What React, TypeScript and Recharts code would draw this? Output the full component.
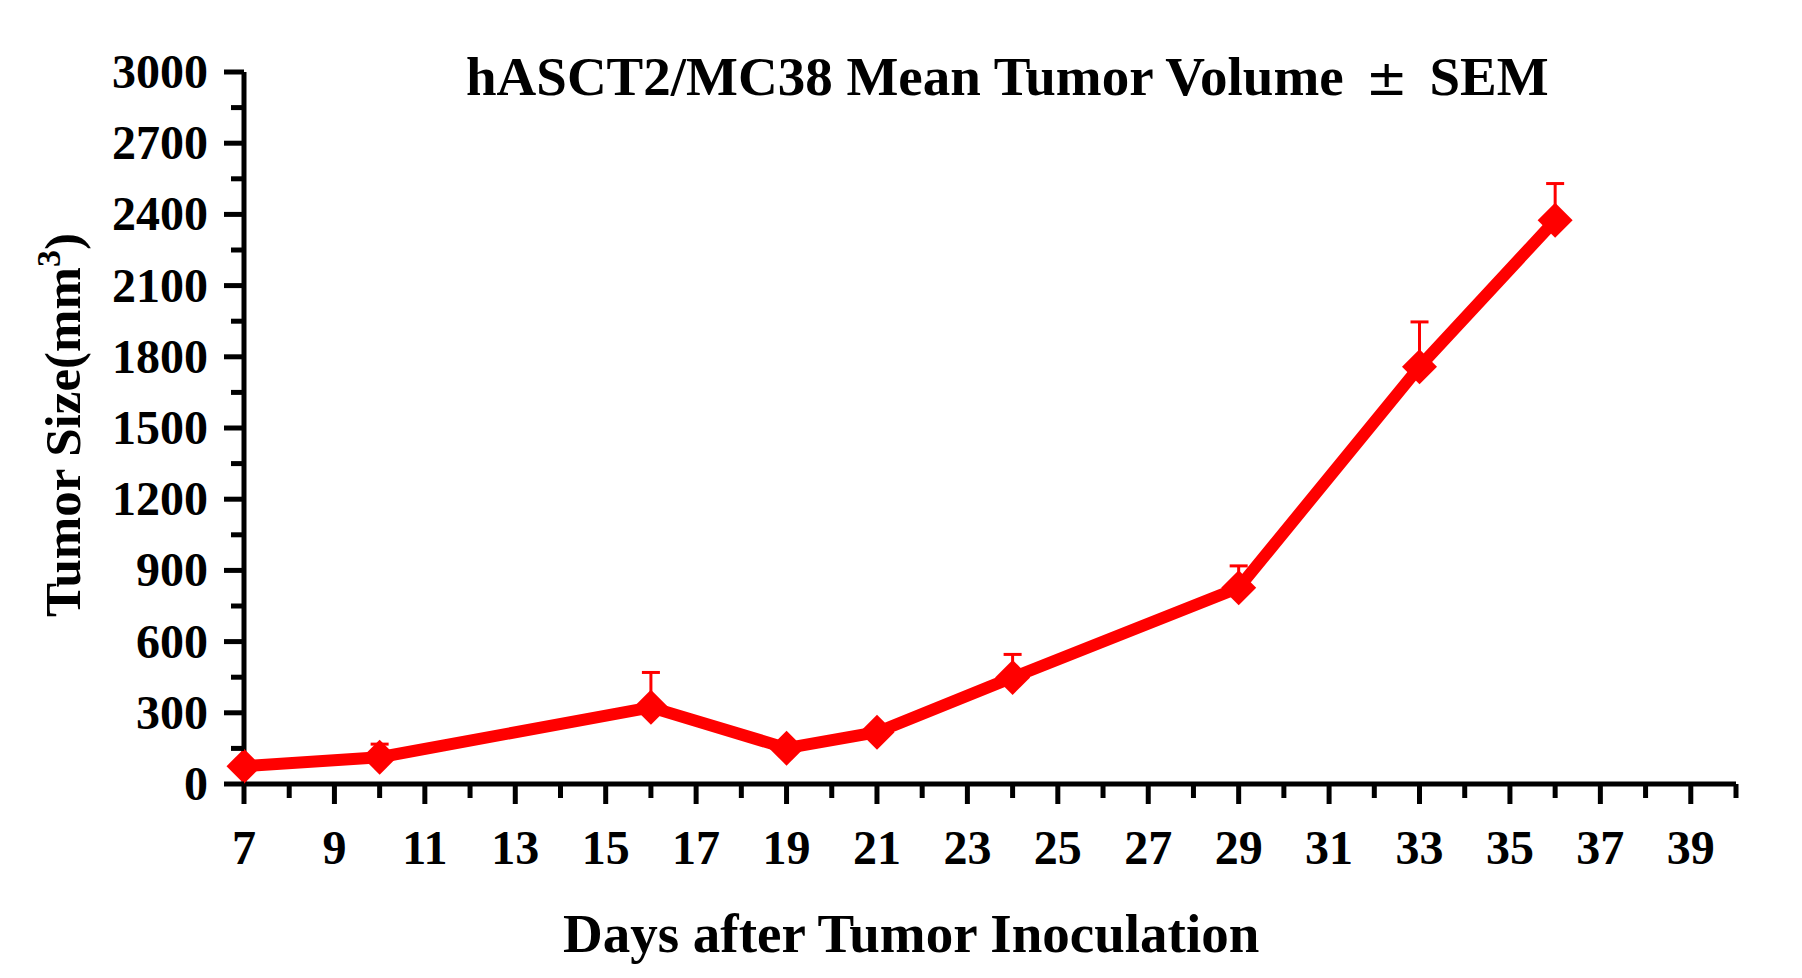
import { LineChart, Line, XAxis, YAxis, ErrorBar } from "recharts";

// measurement days and group mean ± SEM (mm³)
const days = [7, 10, 16, 19, 21, 24, 29, 33, 36];
const meanVolume = [75, 113, 323, 151, 218, 449, 827, 1758, 2375];
const semVolume = [20, 55, 147, 20, 25, 97, 92, 189, 155];

const dayTicks = [
  7, 8, 9, 10, 11, 12, 13, 14, 15, 16, 17, 18, 19, 20, 21, 22, 23, 24, 25, 26,
  27, 28, 29, 30, 31, 32, 33, 34, 35, 36, 37, 38, 39, 40,
];
const sizeTicks = [
  0, 150, 300, 450, 600, 750, 900, 1050, 1200, 1350, 1500, 1650, 1800, 1950,
  2100, 2250, 2400, 2550, 2700, 2850, 3000,
];

const data = days.map((day, i) => ({
  day,
  volume: meanVolume[i],
  err: [0, semVolume[i]],
}));

const FONT = '"Liberation Serif", "Times New Roman", serif';
const RED = "#ff0000";

function YTick({ x, y, payload }: any) {
  const major = payload.value % 300 === 0;
  return (
    <g>
      <line x1={x} x2={x - (major ? 20 : 13)} y1={y} y2={y} stroke="#000" strokeWidth={5} />
      {major && (
        <text
          x={x - 36}
          y={y + 16}
          textAnchor="end"
          fontFamily={FONT}
          fontWeight="bold"
          fontSize={48}
          fill="#000"
        >
          {payload.value}
        </text>
      )}
    </g>
  );
}

function XTick({ x, y, payload }: any) {
  const major = payload.value % 2 === 1;
  return (
    <g>
      <line x1={x} x2={x} y1={y} y2={y + (major ? 20 : 14)} stroke="#000" strokeWidth={5} />
      {major && (
        <text
          x={x}
          y={y + 80}
          textAnchor="middle"
          fontFamily={FONT}
          fontWeight="bold"
          fontSize={48}
          fill="#000"
        >
          {payload.value}
        </text>
      )}
    </g>
  );
}

function Diamond({ cx, cy }: any) {
  if (cx == null || cy == null) return null;
  const r = 17.5;
  return (
    <polygon
      points={`${cx},${cy - r} ${cx + r},${cy} ${cx},${cy + r} ${cx - r},${cy}`}
      fill={RED}
    />
  );
}

export default function App() {
  return (
    <div style={{ position: "absolute", left: 0, top: 0, width: 1802, height: 978, background: "#fff" }}>
      <LineChart
        width={1802}
        height={978}
        data={data}
        margin={{ top: 72, right: 66, bottom: 0, left: 0 }}
      >
        <XAxis
          dataKey="day"
          type="number"
          domain={[7, 40]}
          ticks={dayTicks}
          interval={0}
          height={194}
          tickLine={false}
          tickSize={0}
          tickMargin={0}
          axisLine={{ stroke: "#000", strokeWidth: 5 }}
          tick={<XTick />}
        />
        <YAxis
          type="number"
          domain={[0, 3000]}
          ticks={sizeTicks}
          interval={0}
          width={244}
          tickLine={false}
          tickSize={0}
          tickMargin={0}
          axisLine={{ stroke: "#000", strokeWidth: 5 }}
          tick={<YTick />}
        />
        <Line
          type="linear"
          dataKey="volume"
          stroke={RED}
          strokeWidth={12}
          dot={<Diamond />}
          activeDot={false}
          isAnimationActive={false}
        >
          <ErrorBar dataKey="err" direction="y" width={9} strokeWidth={3} stroke={RED} />
        </Line>
        <text x={466} y={95} fontFamily={FONT} fontWeight="bold" fontSize={55} fill="#000">
          hASCT2/MC38 Mean Tumor Volume
          <tspan dx={22} fontFamily='"DejaVu Sans", sans-serif' fontWeight="normal" fontSize={50}>
            ±
          </tspan>
          <tspan dx={22}>SEM</tspan>
        </text>
        <text x={563} y={952} fontFamily={FONT} fontWeight="bold" fontSize={55} fill="#000">
          Days after Tumor Inoculation
        </text>
        <text
          x={80}
          y={425}
          transform="rotate(-90, 80, 425)"
          textAnchor="middle"
          fontFamily={FONT}
          fontWeight="bold"
          fontSize={51}
          fill="#000"
        >
          Tumor Size(mm
          <tspan fontSize={34} dy={-20}>3</tspan>
          <tspan dy={20}>)</tspan>
        </text>
      </LineChart>
    </div>
  );
}
